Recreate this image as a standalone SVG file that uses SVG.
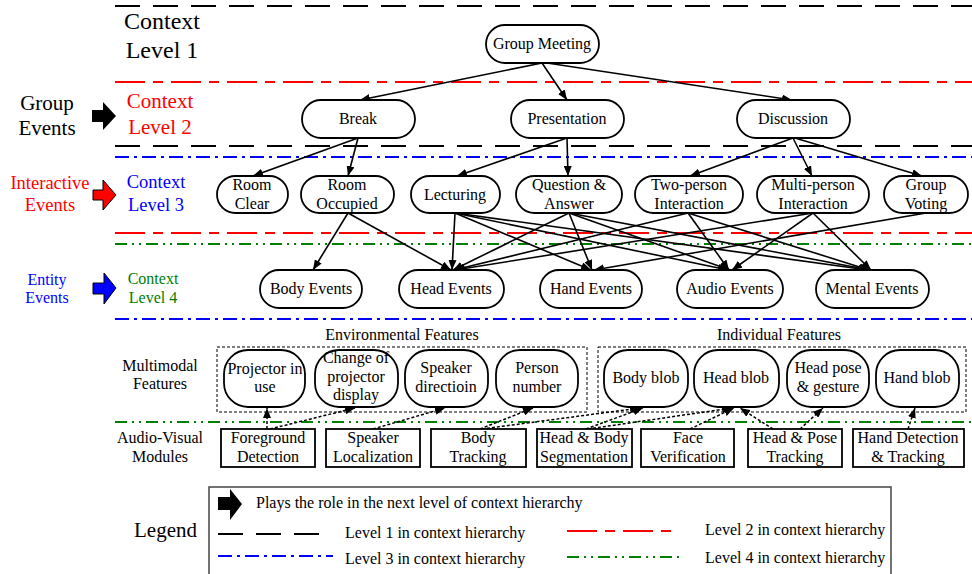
<svg xmlns="http://www.w3.org/2000/svg" width="972" height="574" viewBox="0 0 972 574">
<defs>
<marker id="ah" viewBox="0 0 10 8" refX="10" refY="4" markerWidth="10" markerHeight="8" orient="auto" markerUnits="userSpaceOnUse"><path d="M0,0 L10,4 L0,8 z" fill="#000"/></marker>
<marker id="ahd" viewBox="0 0 10 8" refX="10" refY="4" markerWidth="10" markerHeight="8" orient="auto" markerUnits="userSpaceOnUse"><path d="M0,0 L10,4 L0,8 z" fill="#000"/></marker>
</defs>
<style>
text{font-family:"Liberation Serif","Times New Roman",serif;font-size:16px;fill:#000}
.c{text-anchor:middle}
.n{fill:#fff;stroke:#000;stroke-width:1.8}
.m{fill:#fff;stroke:#000;stroke-width:1.8}
.box{fill:none;stroke:#000;stroke-width:1;stroke-dasharray:3,2}
.l1{stroke:#000;stroke-width:2;stroke-dasharray:25,13}
.l2{stroke:#ff0000;stroke-width:2;stroke-dasharray:30,8,10,8}
.l3{stroke:#0000ff;stroke-width:2;stroke-dasharray:14,5,3,5}
.l4{stroke:#008000;stroke-width:2;stroke-dasharray:12,5,2,5,2,5}
.e{stroke:#000;stroke-width:1.6;fill:none;marker-end:url(#ah)}
.d{stroke:#000;stroke-width:1.5;fill:none;stroke-dasharray:3,2;marker-end:url(#ahd)}
.red{fill:#ff0000}.blue{fill:#0000ff}.green{fill:#008000}
</style>

<g id="level-lines">
<line class="l1" x1="115" y1="6" x2="972" y2="6"/>
<line class="l2" x1="115" y1="82" x2="972" y2="82"/>
<line class="l1" x1="115" y1="146" x2="972" y2="146"/>
<line class="l3" x1="115" y1="157" x2="972" y2="157"/>
<line class="l2" x1="115" y1="233" x2="972" y2="233"/>
<line class="l4" x1="115" y1="244" x2="972" y2="244"/>
<line class="l3" x1="115" y1="319" x2="972" y2="319"/>
<line class="l4" x1="115" y1="422" x2="972" y2="422"/>
</g>

<g id="left-labels">
<text class="c" x="162" y="29" style="font-size:24px">Context</text>
<text class="c" x="162" y="58" style="font-size:24px">Level 1</text>
<text class="c" x="47" y="110" style="font-size:21px">Group</text>
<text class="c" x="47" y="135" style="font-size:21px">Events</text>
<polygon points="92,110 103,110 103,102 116,116 103,130 103,122 92,122" fill="#000"/>
<text class="c red" x="160" y="108" style="font-size:21px">Context</text>
<text class="c red" x="160" y="134" style="font-size:21px">Level 2</text>
<text class="c red" x="50" y="189" style="font-size:18.5px">Interactive</text>
<text class="c red" x="50" y="211" style="font-size:18.5px">Events</text>
<polygon points="93,190 103,190 103,180 116,195 103,210 103,200 93,200" fill="#ff0000" stroke="#000" stroke-width="1"/>
<text class="c blue" x="156" y="188" style="font-size:18.5px">Context</text>
<text class="c blue" x="156" y="211" style="font-size:18.5px">Level 3</text>
<text class="c blue" x="47" y="285">Entity</text>
<text class="c blue" x="47" y="303">Events</text>
<polygon points="93,283 104,283 104,273 116,288 104,304 104,294 93,294" fill="#0000ff" stroke="#000" stroke-width="1"/>
<text class="c green" x="153" y="284">Context</text>
<text class="c green" x="153" y="303">Level 4</text>
<text class="c" x="160" y="371">Multimodal</text>
<text class="c" x="160" y="389">Features</text>
<text class="c" x="160" y="443">Audio-Visual</text>
<text class="c" x="160" y="462">Modules</text>
<text x="134" y="537" style="font-size:21px">Legend</text>
</g>

<g id="connectors">
<path class="e" d="M542,63 L360,100"/>
<path class="e" d="M542,63 L567,100"/>
<path class="e" d="M547,63 L792,100"/>
<path class="e" d="M358,138 L253,176"/>
<path class="e" d="M358,138 L348,176"/>
<path class="e" d="M567,138 L457,176"/>
<path class="e" d="M567,138 L568,176"/>
<path class="e" d="M793,138 L690,176"/>
<path class="e" d="M793,138 L812,176"/>
<path class="e" d="M795,138 L922,176"/>
<path class="e" d="M348,213 L313,270"/>
<path class="e" d="M348,213 L451,270"/>
<path class="e" d="M455,213 L452,270"/>
<path class="e" d="M455,213 L591,270"/>
<path class="e" d="M455,213 L728,270"/>
<path class="e" d="M455,213 L868,270"/>
<path class="e" d="M569,213 L453,270"/>
<path class="e" d="M569,213 L592,270"/>
<path class="e" d="M569,213 L730,270"/>
<path class="e" d="M569,213 L870,270"/>
<path class="e" d="M688,213 L454,270"/>
<path class="e" d="M688,213 L729,270"/>
<path class="e" d="M688,213 L869,270"/>
<path class="e" d="M813,213 L455,270"/>
<path class="e" d="M813,213 L732,270"/>
<path class="e" d="M813,213 L871,270"/>
<path class="e" d="M926,213 L594,270"/>
<path class="d" d="M267,429 L267,408"/>
<path class="d" d="M270,429 L355,408"/>
<path class="d" d="M373,429 L445,408"/>
<path class="d" d="M480,429 L533,408"/>
<path class="d" d="M482,429 L640,408"/>
<path class="d" d="M586,429 L643,408"/>
<path class="d" d="M588,429 L732,408"/>
<path class="d" d="M690,429 L734,408"/>
<path class="d" d="M773,429 L740,408"/>
<path class="d" d="M800,429 L823,408"/>
<path class="d" d="M908,429 L915,408"/>
</g>

<g id="n-group-meeting"><rect class="n" x="486" y="25" width="113" height="38" rx="19"/><text class="c" x="542" y="49">Group Meeting</text></g>
<g id="n-break"><rect class="n" x="302" y="100" width="113" height="38" rx="19"/><text class="c" x="358" y="124">Break</text></g>
<g id="n-presentation"><rect class="n" x="511" y="100" width="113" height="38" rx="19"/><text class="c" x="567" y="124">Presentation</text></g>
<g id="n-discussion"><rect class="n" x="737" y="100" width="113" height="38" rx="19"/><text class="c" x="793" y="124">Discussion</text></g>

<g id="n-room-clear"><rect class="n" x="217" y="176" width="71" height="37" rx="18.5"/><text class="c" x="252" y="190">Room</text><text class="c" x="252" y="209">Clear</text></g>
<g id="n-room-occupied"><rect class="n" x="301" y="176" width="93" height="37" rx="18.5"/><text class="c" x="347" y="190">Room</text><text class="c" x="347" y="209">Occupied</text></g>
<g id="n-lecturing"><rect class="n" x="411" y="176" width="89" height="37" rx="18.5"/><text class="c" x="455" y="200">Lecturing</text></g>
<g id="n-qa"><rect class="n" x="516" y="176" width="106" height="37" rx="18.5"/><text class="c" x="569" y="190">Question &amp;</text><text class="c" x="569" y="209">Answer</text></g>
<g id="n-two-person"><rect class="n" x="635" y="176" width="108" height="37" rx="18.5"/><text class="c" x="689" y="190">Two-person</text><text class="c" x="689" y="209">Interaction</text></g>
<g id="n-multi-person"><rect class="n" x="757" y="176" width="112" height="37" rx="18.5"/><text class="c" x="813" y="190">Multi-person</text><text class="c" x="813" y="209">Interaction</text></g>
<g id="n-group-voting"><rect class="n" x="884" y="176" width="84" height="37" rx="18.5"/><text class="c" x="926" y="190">Group</text><text class="c" x="926" y="209">Voting</text></g>

<g id="n-body-events"><rect class="n" x="260" y="270" width="102" height="38" rx="19"/><text class="c" x="311" y="294">Body Events</text></g>
<g id="n-head-events"><rect class="n" x="399" y="270" width="105" height="38" rx="19"/><text class="c" x="451" y="294">Head Events</text></g>
<g id="n-hand-events"><rect class="n" x="540" y="270" width="102" height="38" rx="19"/><text class="c" x="591" y="294">Hand Events</text></g>
<g id="n-audio-events"><rect class="n" x="677" y="270" width="106" height="38" rx="19"/><text class="c" x="730" y="294">Audio Events</text></g>
<g id="n-mental-events"><rect class="n" x="816" y="270" width="113" height="38" rx="19"/><text class="c" x="872" y="294">Mental Events</text></g>

<g id="env-features">
<text class="c" x="402" y="340">Environmental Features</text>
<rect class="box" x="217" y="347" width="370" height="65"/>
</g>
<g id="ind-features">
<text class="c" x="779" y="340">Individual Features</text>
<rect class="box" x="598" y="347" width="368" height="65"/>
</g>

<g id="f-projector"><rect class="n" x="224" y="350" width="81" height="57" rx="24"/><text class="c" x="265" y="374">Projector in</text><text class="c" x="265" y="392">use</text></g>
<g id="f-change"><rect class="n" x="315" y="350" width="83" height="57" rx="24"/><text class="c" x="356" y="363">Change of</text><text class="c" x="356" y="382">projector</text><text class="c" x="356" y="400">display</text></g>
<g id="f-speaker"><rect class="n" x="405" y="350" width="83" height="57" rx="24"/><text class="c" x="446" y="373">Speaker</text><text class="c" x="446" y="392">directioin</text></g>
<g id="f-person"><rect class="n" x="496" y="350" width="82" height="57" rx="24"/><text class="c" x="537" y="373">Person</text><text class="c" x="537" y="392">number</text></g>
<g id="f-body-blob"><rect class="n" x="604" y="350" width="84" height="57" rx="24"/><text class="c" x="646" y="383">Body blob</text></g>
<g id="f-head-blob"><rect class="n" x="694" y="350" width="85" height="57" rx="24"/><text class="c" x="736" y="383">Head blob</text></g>
<g id="f-head-pose"><rect class="n" x="787" y="350" width="82" height="57" rx="24"/><text class="c" x="828" y="373">Head pose</text><text class="c" x="828" y="392">&amp; gesture</text></g>
<g id="f-hand-blob"><rect class="n" x="876" y="350" width="83" height="57" rx="24"/><text class="c" x="917" y="383">Hand blob</text></g>

<g id="m-foreground"><rect class="m" x="221" y="429" width="94" height="38"/><text class="c" x="268" y="443">Foreground</text><text class="c" x="268" y="462">Detection</text></g>
<g id="m-speaker-loc"><rect class="m" x="326" y="429" width="94" height="38"/><text class="c" x="373" y="443">Speaker</text><text class="c" x="373" y="462">Localization</text></g>
<g id="m-body-tracking"><rect class="m" x="431" y="429" width="95" height="38"/><text class="c" x="478" y="443">Body</text><text class="c" x="478" y="462">Tracking</text></g>
<g id="m-hb-seg"><rect class="m" x="537" y="429" width="95" height="38"/><text class="c" x="584" y="443">Head &amp; Body</text><text class="c" x="584" y="462">Segmentation</text></g>
<g id="m-face"><rect class="m" x="641" y="429" width="93" height="38"/><text class="c" x="688" y="443">Face</text><text class="c" x="688" y="462">Verification</text></g>
<g id="m-head-pose"><rect class="m" x="748" y="429" width="94" height="38"/><text class="c" x="795" y="443">Head &amp; Pose</text><text class="c" x="795" y="462">Tracking</text></g>
<g id="m-hand-det"><rect class="m" x="853" y="429" width="111" height="38"/><text class="c" x="908" y="443">Hand Detection</text><text class="c" x="908" y="462">&amp; Tracking</text></g>

<g id="legend">
<rect x="209" y="487" width="682" height="100" fill="none" stroke="#444" stroke-width="1.5"/>
<polygon points="218,497 230,497 230,489 242,504 230,520 230,510 218,510" fill="#000"/>
<text x="256" y="508">Plays the role in the next level of context hierarchy</text>
<line class="l1" x1="218" y1="534" x2="320" y2="534"/>
<text x="345" y="538">Level 1 in context hierarchy</text>
<line class="l3" x1="218" y1="556" x2="333" y2="556"/>
<text x="345" y="564">Level 3 in context hierarchy</text>
<line class="l2" x1="567" y1="531" x2="675" y2="531"/>
<text x="705" y="535">Level 2 in context hierarchy</text>
<line class="l4" x1="567" y1="557" x2="681" y2="557"/>
<text x="705" y="563">Level 4 in context hierarchy</text>
</g>
</svg>
